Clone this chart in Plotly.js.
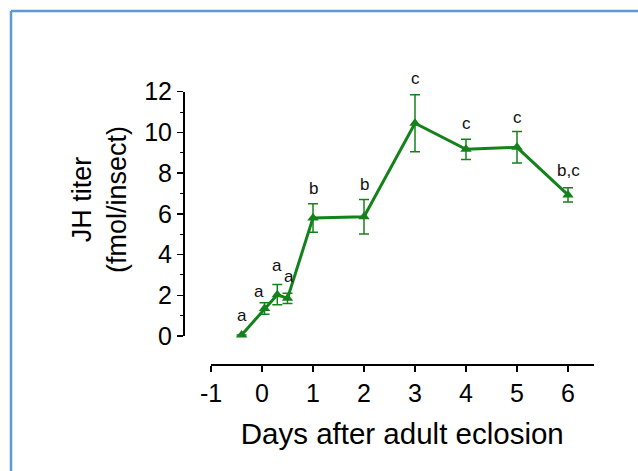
<!DOCTYPE html>
<html>
<head>
<meta charset="utf-8">
<script src="https://cdn.plot.ly/plotly-3.0.1.min.js"></script>
<style>html,body{margin:0;padding:0;background:#fff;}#chart{width:638px;height:471px;}</style>
</head>
<body>
<div id="chart"></div>
<script>
// ---- data ----
const days = [-0.4, 0.05, 0.3, 0.5, 1, 2, 3, 4, 5, 6];
const jhTiter = [0.05, 1.35, 2.03, 1.85, 5.8, 5.86, 10.45, 9.17, 9.27, 6.93];
const jhSem = [0, 0.28, 0.5, 0.25, 0.7, 0.85, 1.4, 0.5, 0.77, 0.35];
const sigLetters = ['a', 'a', 'a', 'a', 'b', 'b', 'c', 'c', 'c', 'b,c'];
const xTicks = [-1, 0, 1, 2, 3, 4, 5, 6];
const yTicks = [0, 2, 4, 6, 8, 10, 12];

// ---- layout helpers (pixels -> paper) ----
const W = 638, H = 471;
const px = v => v / W;
const py = v => (H - v) / H;
const green = '#14821a';
const font = 'Arial, "Liberation Sans", sans-serif';

// label offsets (pixels), styling only
const labelXShift = [0, -6, 0, 1, 0, 0, 0, 0, 0, 0];
const labelYShift = [8, 0, 7, 5, 4, 3, 5, 4, 3, 6];

const trace = {
  x: days,
  y: jhTiter,
  type: 'scatter',
  mode: 'lines+markers',
  line: {color: green, width: 3},
  marker: {symbol: 'triangle-up', size: 10, color: green},
  error_y: {type: 'data', array: jhSem, visible: true, color: green, thickness: 1.5, width: 5},
  cliponaxis: false,
  hoverinfo: 'skip'
};

const annotations = days.map((d, i) => ({
  x: d,
  y: jhTiter[i] + jhSem[i],
  xref: 'x', yref: 'y',
  text: sigLetters[i],
  showarrow: false,
  yanchor: 'bottom',
  xanchor: 'center',
  xshift: labelXShift[i],
  yshift: labelYShift[i],
  font: {family: font, size: 17, color: '#111'}
}));

annotations.push({
  xref: 'paper', yref: 'paper',
  x: px(99), y: py(200),
  text: 'JH titer<br>(fmol/insect)',
  textangle: -90,
  showarrow: false,
  xanchor: 'center', yanchor: 'middle',
  font: {family: font, size: 27, color: '#000'}
});

const frameColor = '#5b9bd5';
const layout = {
  width: W, height: H,
  margin: {l: 0, r: 0, t: 0, b: 0},
  paper_bgcolor: '#fff',
  plot_bgcolor: 'rgba(0,0,0,0)',
  showlegend: false,
  xaxis: {
    domain: [px(211), px(593.5)],
    range: [-1, 6.5],
    anchor: 'free',
    position: py(364),
    tickvals: xTicks,
    ticktext: xTicks.map(String),
    ticks: 'outside', ticklen: 6, tickwidth: 1.5, tickcolor: '#000',
    showline: true, linecolor: '#000', linewidth: 1.5,
    showgrid: false, zeroline: false,
    tickfont: {family: font, size: 25, color: '#000'},
    title: {text: 'Days after adult eclosion', font: {family: font, size: 29.5, color: '#000'}, standoff: 18}
  },
  yaxis: {
    domain: [py(336), py(91.7)],
    range: [0, 12],
    anchor: 'free',
    position: px(183),
    tickvals: yTicks,
    ticktext: yTicks.map(String),
    ticks: 'outside', ticklen: 6, tickwidth: 1.5, tickcolor: '#000',
    minor: {dtick: 1, tick0: 1, ticks: 'outside', ticklen: 3, tickwidth: 1, tickcolor: '#000', showgrid: false},
    showline: true, linecolor: '#000', linewidth: 1.5,
    showgrid: false, zeroline: false,
    tickfont: {family: font, size: 25, color: '#000'}
  },
  shapes: [
    {type: 'line', xref: 'paper', yref: 'paper', x0: px(11), x1: 1, y0: py(11), y1: py(11), line: {color: frameColor, width: 2.5}},
    {type: 'line', xref: 'paper', yref: 'paper', x0: px(11), x1: px(11), y0: py(11), y1: 0, line: {color: frameColor, width: 2.5}}
  ],
  annotations: annotations
};

Plotly.newPlot('chart', [trace], layout, {displayModeBar: false, staticPlot: true});
</script>
</body>
</html>
